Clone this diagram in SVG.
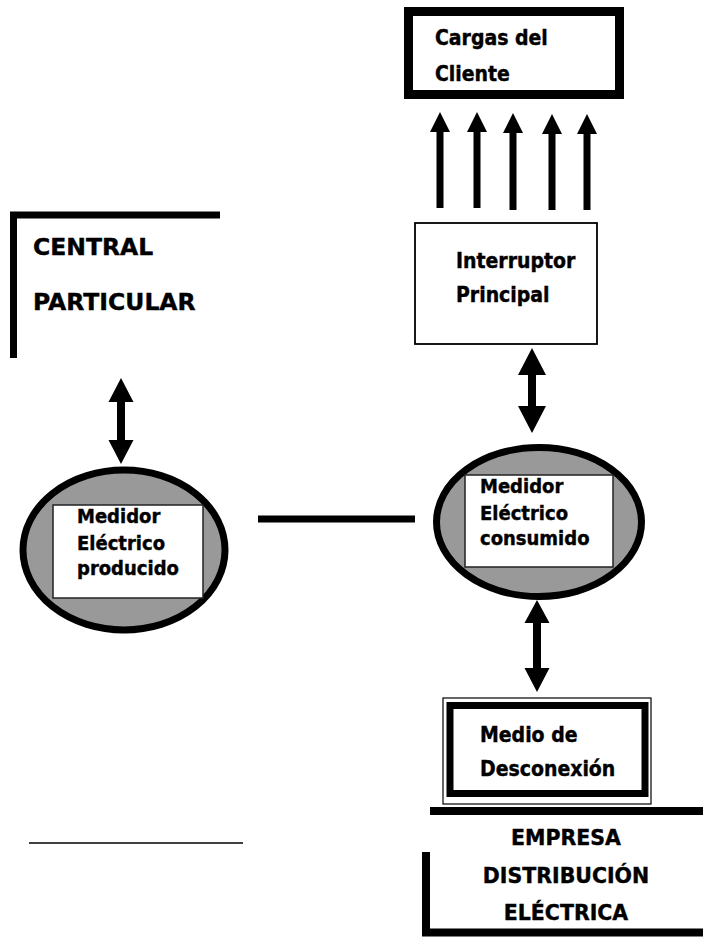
<svg xmlns="http://www.w3.org/2000/svg" width="703" height="940" viewBox="0 0 703 940">
<style>
.t{font-family:"DejaVu Sans Condensed","DejaVu Sans",sans-serif;font-stretch:condensed;font-weight:bold;fill:#000;stroke:#000;stroke-width:0.4}
.tw{font-family:"DejaVu Sans",sans-serif;font-weight:bold;fill:#000;stroke:#000;stroke-width:0.4}
.ell{fill:#999;stroke:#000;stroke-width:7}
.inner{fill:#fff;stroke:#222;stroke-width:1.5}
.arr{fill:#000;stroke:none}
.bar{stroke:#000;fill:none}
</style>
<rect width="703" height="940" fill="#fff"/>

<g id="cargas">
<rect x="408.5" y="11.5" width="211" height="83" fill="#fff" stroke="#000" stroke-width="9"/>
<text class="t" x="435" y="45" font-size="21">Cargas del</text>
<text class="t" x="435" y="81" font-size="21">Cliente</text>
</g>

<g id="interruptor">
<rect x="415" y="223" width="182" height="121" fill="#fff" stroke="#000" stroke-width="1.8"/>
<text class="t" x="456" y="268" font-size="21">Interruptor</text>
<text class="t" x="456" y="302" font-size="21">Principal</text>
</g>

<g id="central">
<path class="bar" d="M13.5 212 V358 M10 215 H220" stroke-width="7"/>
<text class="tw" x="33" y="255" font-size="23.5">CENTRAL</text>
<text class="tw" x="33" y="310" font-size="23.5">PARTICULAR</text>
</g>

<g id="medidor-producido">
<ellipse class="ell" cx="124" cy="550" rx="101" ry="80"/>
<rect class="inner" x="53" y="505" width="150" height="93"/>
<text class="t" x="77" y="523" font-size="20">Medidor</text>
<text class="t" x="77" y="550" font-size="20">Eléctrico</text>
<text class="t" x="77" y="575" font-size="20">producido</text>
</g>

<g id="medidor-consumido">
<ellipse class="ell" cx="539" cy="522" rx="102.5" ry="74.5"/>
<rect class="inner" x="465" y="475" width="148" height="92"/>
<text class="t" x="480" y="493" font-size="20">Medidor</text>
<text class="t" x="480" y="520" font-size="20">Eléctrico</text>
<text class="t" x="480" y="545" font-size="20">consumido</text>
</g>

<g id="medio-desconexion">
<rect x="443" y="698" width="208" height="106" fill="#fff" stroke="#000" stroke-width="1.2"/>
<rect x="450" y="705.5" width="195" height="88" fill="#fff" stroke="#000" stroke-width="7"/>
<text class="t" x="480" y="742" font-size="21">Medio de</text>
<text class="t" x="480" y="776" font-size="21">Desconexión</text>
</g>

<g id="empresa">
<path class="bar" d="M430 811 H703" stroke-width="8"/>
<path class="bar" d="M426 852 V935 M422 932.5 H703" stroke-width="8"/>
<text class="tw" x="566" y="845" font-size="20.5" text-anchor="middle">EMPRESA</text>
<text class="tw" x="566" y="883" font-size="20.5" text-anchor="middle">DISTRIBUCIÓN</text>
<text class="tw" x="566" y="920" font-size="20.5" text-anchor="middle">ELÉCTRICA</text>
</g>

<g id="line-aux">
<path d="M29 843 H243" stroke="#000" stroke-width="1.5"/>
</g>

<g id="connectors">
<path class="arr" d="M440 112 L450 132 L443.5 132 L443.5 208 L436.5 208 L436.5 132 L430 132 Z"/>
<path class="arr" d="M477 112 L487 132 L480.5 132 L480.5 208 L473.5 208 L473.5 132 L467 132 Z"/>
<path class="arr" d="M513 113 L523 133 L516.5 133 L516.5 210 L509.5 210 L509.5 133 L503 133 Z"/>
<path class="arr" d="M552 114 L562 134 L555.5 134 L555.5 210 L548.5 210 L548.5 134 L542 134 Z"/>
<path class="arr" d="M587 114 L597 134 L590.5 134 L590.5 210 L583.5 210 L583.5 134 L577 134 Z"/>
<path class="arr" d="M121 378 L133.5 402 L125 402 L125 440 L133.5 440 L121 464 L108.5 440 L117 440 L117 402 L108.5 402 Z"/>
<path class="arr" d="M532 348 L546 375 L536 375 L536 406 L546 406 L532 433 L518 406 L528 406 L528 375 L518 375 Z"/>
<path class="arr" d="M537 600 L549.5 623 L541 623 L541 668 L549.5 668 L537 692 L524.5 668 L533 668 L533 623 L524.5 623 Z"/>
<path class="bar" d="M258 519 H415" stroke-width="7"/>
</g>
</svg>
